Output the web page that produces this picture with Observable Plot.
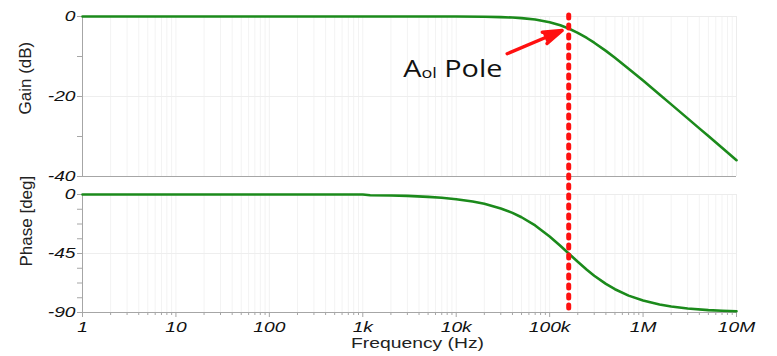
<!DOCTYPE html>
<html><head><meta charset="utf-8">
<script src="https://cdn.jsdelivr.net/npm/d3@7"></script>
<script src="https://cdn.jsdelivr.net/npm/@observablehq/plot@0.6"></script>
<style>
body{margin:0;background:#fff;}
#chart{width:777px;height:356px;overflow:hidden;background:#fff;}
#chart svg{display:block;}
</style></head><body><div id="chart"></div>
<script>
// ---- data ----
const gainFreq = [1, 10, 100, 1000, 10000, 20000, 30000, 40000, 50000, 70000, 100000, 130000, 160000, 200000, 250000, 300000, 400000, 500000, 700000, 1000000, 1500000, 2000000, 3000000, 4000000, 5000000, 7000000, 10000000];
const gainDb   = [0, 0, 0, 0, 0, -0.07, -0.15, -0.26, -0.4, -0.76, -1.43, -2.2, -3.01, -4.09, -5.37, -6.55, -8.6, -10.32, -13.04, -16.03, -19.49, -21.97, -25.47, -27.97, -29.9, -32.82, -35.92];
const phaseFreq = [1, 10, 100, 1000, 1200, 2000, 3000, 5000, 7000, 10000, 15000, 20000, 30000, 40000, 50000, 70000, 100000, 130000, 160000, 200000, 250000, 300000, 400000, 500000, 700000, 1000000, 1500000, 2000000, 3000000, 5000000, 7000000, 10000000];
const phaseDeg  = [0, 0, 0, 0, -0.6, -0.72, -1.07, -1.79, -2.51, -3.58, -5.36, -7.13, -10.62, -14.04, -17.35, -23.63, -32.0, -39.09, -45.0, -51.34, -57.38, -61.93, -68.2, -72.26, -77.13, -80.91, -83.91, -85.43, -86.95, -88.17, -88.69, -89.08];
const poleFreq = [160000];
const xTicks = [1, 10, 100, 1000, 10000, 100000, 1000000, 10000000];
const xTickLabels = ["1", "10", "100", "1k", "10k", "100k", "1M", "10M"];
const gainTicks = [0, -10, -20, -30, -40];
const gainTickLabels = ["0", "", "-20", "", "-40"];
const phaseTicks = [0, -11.25, -22.5, -33.75, -45, -56.25, -67.5, -78.75, -90];
const phaseTickLabels = ["0", "", "", "", "-45", "", "", "", "-90"];
const annotation = {text: "A Pole", x: 2707, y: -13.25};
const arrowFrom = {x: 35100, y: -9.3};
const arrowTo = {x: 136000, y: -3.5};

// minor log positions (axis grid/ticks only)
const minorTicks = [];
for (let e = 0; e < 7; e++) for (let m = 2; m <= 9; m++) minorTicks.push(m * 10 ** e);
const allTicks = xTicks.concat(minorTicks);

const green = "#1b8a1b";
const axisGray = "#a6a6a6";
const light = "#ececec";
const baseStyle = {fontFamily: "'Liberation Sans', Arial, sans-serif", fontSize: "15px", background: "white", overflow: "visible", color: "#111"};
const gainData = gainFreq.map((f, i) => ({f, v: gainDb[i]}));
const phaseData = phaseFreq.map((f, i) => ({f, v: phaseDeg[i]}));

const gainPlot = Plot.plot({
  width: 777, height: 185, marginLeft: 82, marginRight: 41, marginTop: 16, marginBottom: 9,
  x: {type: "log", domain: [1, 1e7], axis: null},
  y: {domain: [-40, 0]},
  style: baseStyle,
  marks: [
    Plot.ruleX(allTicks, {stroke: "#f3f3f3"}),
    Plot.ruleY([-20], {stroke: "#eeeeee"}),
    Plot.ruleY([0], {stroke: light}),
    Plot.ruleX([1e7], {stroke: light}),
    Plot.axisY({ticks: gainTicks, tickFormat: d => gainTickLabels[gainTicks.indexOf(d)], tickSize: 5, tickPadding: 2, stroke: axisGray, fill: "#111", label: null}),
    Plot.ruleX([1], {stroke: axisGray}),
    Plot.ruleY([-40], {stroke: axisGray}),
    Plot.line(gainData, {x: "f", y: "v", stroke: green, strokeWidth: 2.6}),
    Plot.ruleX(poleFreq, {stroke: "#ff1010", strokeWidth: 5, strokeDasharray: "3,7", strokeLinecap: "round", insetTop: -1, insetBottom: -9}),
    Plot.arrow([0], {x1: arrowFrom.x, y1: arrowFrom.y, x2: arrowTo.x, y2: arrowTo.y, stroke: "#ff1010", fill: "#ff1010", strokeWidth: 3.4, headLength: 10, headAngle: 36}),
    Plot.text([annotation], {x: "x", y: "y", text: "text", textAnchor: "start", fontSize: 24, fontFamily: "'Open Sans', sans-serif", fill: "#111"}),
    Plot.text(["Gain (dB)"], {text: d => d, frameAnchor: "left", rotate: -90, dx: -57, dy: 18, fontSize: 17, fill: "#222"})
  ]
});

const phasePlot = Plot.plot({
  width: 777, height: 171, marginLeft: 82, marginRight: 41, marginTop: 9, marginBottom: 44,
  x: {type: "log", domain: [1, 1e7]},
  y: {domain: [-90, 0]},
  style: baseStyle,
  marks: [
    Plot.ruleX(allTicks, {stroke: "#f3f3f3"}),
    Plot.ruleY([-45], {stroke: "#eeeeee"}),
    Plot.ruleY([0], {stroke: light}),
    Plot.ruleX([1e7], {stroke: light}),
    Plot.axisY({ticks: phaseTicks, tickFormat: d => phaseTickLabels[phaseTicks.indexOf(d)], tickSize: 5, tickPadding: 2, stroke: axisGray, fill: "#111", label: null}),
    Plot.axisX({ticks: minorTicks, tickFormat: () => "", tickSize: 3, stroke: axisGray, label: null}),
    Plot.axisX({ticks: xTicks, tickFormat: d => xTickLabels[xTicks.indexOf(d)], tickSize: 5, tickPadding: 4, stroke: axisGray, fill: "#111", label: null}),
    Plot.ruleX([1], {stroke: axisGray}),
    Plot.ruleY([-90], {stroke: axisGray}),
    Plot.line(phaseData, {x: "f", y: "v", stroke: green, strokeWidth: 2.6}),
    Plot.ruleX(poleFreq, {stroke: "#ff1010", strokeWidth: 5, strokeDasharray: "3,7", strokeLinecap: "round", insetTop: -9}),
    Plot.text(["Phase [deg]"], {text: d => d, frameAnchor: "left", rotate: -90, dx: -56, dy: 13, fontSize: 17, fill: "#222"}),
    Plot.text(["Frequency (Hz)"], {text: d => d, frameAnchor: "bottom", dx: 8, dy: 35.5, fontSize: 14.5, fill: "#222"})
  ]
});

const host = document.getElementById("chart");
host.appendChild(gainPlot);
host.appendChild(phasePlot);

function stretchEl(t, k) {
  const w = t.getComputedTextLength();
  if (w > 0) {
    t.setAttribute("textLength", (w * k).toFixed(2));
    t.setAttribute("lengthAdjust", "spacingAndGlyphs");
  }
}
const ns = "http://www.w3.org/2000/svg";
const tickLabelSet = new Set([...xTickLabels, ...gainTickLabels, ...phaseTickLabels].filter(s => s !== "").flatMap(s => [s, s.replace("-", "\u2212")]));
for (const svg of [gainPlot, phasePlot]) {
  svg.querySelectorAll("text").forEach(t => {
    const s = t.textContent;
    if (s === "A Pole") {
      t.textContent = "";
      const a = document.createElementNS(ns, "tspan"); a.textContent = "A";
      const sub = document.createElementNS(ns, "tspan"); sub.textContent = "ol"; sub.setAttribute("font-size", "15"); sub.setAttribute("dy", "1");
      const p = document.createElementNS(ns, "tspan"); p.textContent = " Pole"; p.setAttribute("dy", "-1");
      t.appendChild(a); t.appendChild(sub); t.appendChild(p);
      stretchEl(t, 1.2);
    } else if (s === "Frequency (Hz)") {
      stretchEl(t, 1.33);
    } else if (tickLabelSet.has(s)) {
      t.style.fontStyle = "italic";
      t.setAttribute("font-style", "italic");
      stretchEl(t, 1.28);
    }
  });
}
</script></body></html>
